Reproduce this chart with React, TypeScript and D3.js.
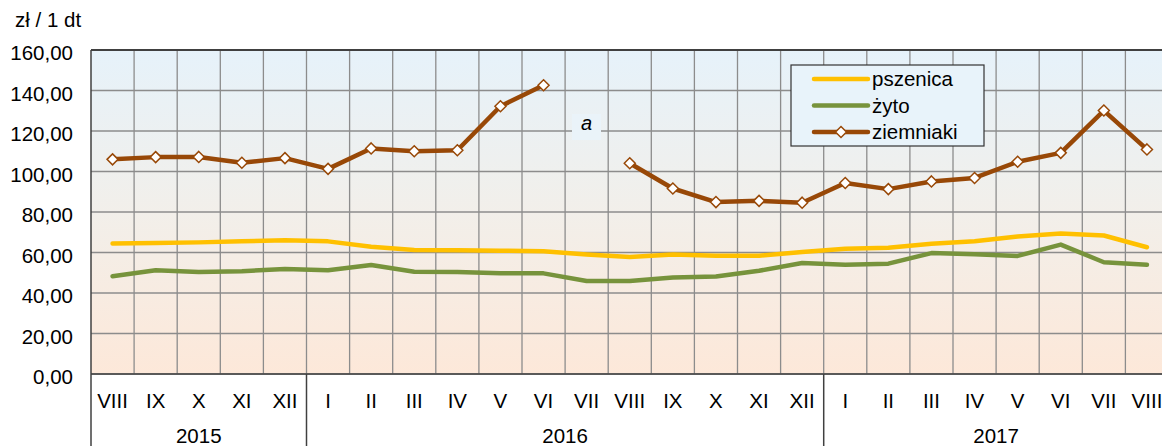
import React from "react";
import { scaleBand, scaleLinear, line } from "d3";

const months = [
  "VIII", "IX", "X", "XI", "XII",
  "I", "II", "III", "IV", "V", "VI", "VII", "VIII", "IX", "X", "XI", "XII",
  "I", "II", "III", "IV", "V", "VI", "VII", "VIII",
];
const years = [
  { label: "2015", from: 0, to: 5 },
  { label: "2016", from: 5, to: 17 },
  { label: "2017", from: 17, to: 25 },
];
const yTicks = [0, 20, 40, 60, 80, 100, 120, 140, 160];

const pszenica = [
  64.4, 64.7, 65.0, 65.5, 66.1, 65.5, 62.8, 61.2, 61.1, 60.9, 60.6, 59.0, 57.8,
  59.0, 58.4, 58.4, 60.2, 61.8, 62.3, 64.3, 65.6, 67.9, 69.4, 68.4, 62.6,
];
const zyto = [
  48.3, 51.2, 50.4, 50.8, 51.8, 51.2, 53.8, 50.5, 50.4, 49.8, 49.7, 45.9, 45.9,
  47.6, 48.1, 51.0, 54.8, 54.0, 54.5, 59.7, 59.1, 58.3, 63.9, 55.2, 53.9,
];
const ziemniaki: (number | null)[] = [
  106.0, 107.1, 107.2, 104.3, 106.6, 101.3, 111.4, 110.0, 110.5, 132.2, 142.6,
  null, 104.1, 91.6, 84.9, 85.5, 84.6, 94.3, 91.3, 95.1, 96.8, 104.8, 109.2,
  130.1, 110.9,
];

const W = 1162;
const H = 446;
const left = 91;
const step = 43.1;
const top = 50;
const bottom = 374;
const font = "'Liberation Sans', Arial, sans-serif";

const colors = { pszenica: "#FFC000", zyto: "#77933C", ziemniaki: "#984807" };

export default function App() {
  const x = scaleBand<number>()
    .domain(months.map((_, i) => i))
    .range([left, left + step * months.length])
    .padding(0);
  const y = scaleLinear().domain([0, 160]).range([bottom, top]);
  const cx = (i: number) => (x(i) as number) + x.bandwidth() / 2;

  const mk = line<number | null>()
    .defined((d) => d != null)
    .x((_, i) => cx(i))
    .y((d) => y(d as number));

  const diamond = (px: number, py: number, r = 5.5) =>
    `M${px},${py - r}L${px + r},${py}L${px},${py + r}L${px - r},${py}Z`;

  const fmt = (v: number) => v.toFixed(2).replace(".", ",");

  const legendItems = [
    { label: "pszenica", color: colors.pszenica, marker: false },
    { label: "żyto", color: colors.zyto, marker: false },
    { label: "ziemniaki", color: colors.ziemniaki, marker: true },
  ];

  return (
    <svg
      width={W}
      height={H}
      style={{ position: "absolute", left: 0, top: 0, fontFamily: font }}
    >
      <defs>
        <linearGradient id="bg" x1="0" y1="0" x2="0" y2="1">
          <stop offset="0" stopColor="#e6f2fa" />
          <stop offset="0.5" stopColor="#f2efea" />
          <stop offset="1" stopColor="#fde8d9" />
        </linearGradient>
      </defs>
      <rect width={W} height={H} fill="#fff" />
      <rect
        x={left}
        y={top}
        width={step * months.length}
        height={bottom - top}
        fill="url(#bg)"
      />

      {/* grid */}
      {yTicks.map((t) => (
        <line
          key={"h" + t}
          x1={left}
          x2={left + step * months.length}
          y1={y(t)}
          y2={y(t)}
          stroke="#8c8c8c"
          strokeWidth={1.3}
        />
      ))}
      {months.map((_, i) =>
        i === 0 ? null : (
          <line
            key={"v" + i}
            x1={x(i)}
            x2={x(i)}
            y1={top}
            y2={bottom}
            stroke="#8c8c8c"
            strokeWidth={1.3}
          />
        )
      )}
      <line x1={left} x2={W} y1={top} y2={top} stroke="#404040" strokeWidth={2} />

      {/* annotation a */}
      <rect x={572} y={114} width={29} height={26} fill="#eaf3f9" />
      <text
        x={cx(11)}
        y={y(124) + 7}
        textAnchor="middle"
        fontSize={20}
        fontStyle="italic"
        fill="#000"
      >
        a
      </text>

      {/* lines */}
      <path d={mk(pszenica) || ""} fill="none" stroke={colors.pszenica} strokeWidth={4.5} strokeLinejoin="round" strokeLinecap="round" />
      <path d={mk(zyto) || ""} fill="none" stroke={colors.zyto} strokeWidth={4.5} strokeLinejoin="round" strokeLinecap="round" />
      <path d={mk(ziemniaki) || ""} fill="none" stroke={colors.ziemniaki} strokeWidth={4.5} strokeLinejoin="round" strokeLinecap="round" />
      {ziemniaki.map((d, i) =>
        d == null ? null : (
          <path
            key={"m" + i}
            d={diamond(cx(i), y(d))}
            fill="#fff"
            stroke={colors.ziemniaki}
            strokeWidth={1.5}
          />
        )
      )}

      {/* axes */}
      <line x1={left} x2={W} y1={bottom} y2={bottom} stroke="#404040" strokeWidth={1.5} />
      <line x1={left} x2={left} y1={top} y2={H} stroke="#404040" strokeWidth={1.5} />
      {years.map((yr) => (
        <g key={yr.label}>
          {yr.from > 0 && (
            <line
              x1={x(yr.from)}
              x2={x(yr.from)}
              y1={bottom}
              y2={H}
              stroke="#404040"
              strokeWidth={1.5}
            />
          )}
          <text
            x={((x(yr.from) as number) + (x(yr.to - 1) as number) + x.bandwidth()) / 2}
            y={443}
            textAnchor="middle"
            fontSize={20.5}
            fill="#000"
          >
            {yr.label}
          </text>
        </g>
      ))}
      {months.map((m, i) => (
        <text key={"ml" + i} x={cx(i)} y={408} textAnchor="middle" fontSize={20.5} fill="#000">
          {m}
        </text>
      ))}
      {yTicks.map((t) => (
        <text key={"yl" + t} x={73} y={y(t) + 10} textAnchor="end" fontSize={20.5} fill="#000">
          {fmt(t)}
        </text>
      ))}
      <text x={15} y={27} fontSize={20.5} fill="#000">
        zł / 1 dt
      </text>

      {/* legend */}
      <rect x={791} y={65} width={193} height={81} fill="#e8f3fa" stroke="#333" strokeWidth={1.2} />
      {legendItems.map((it, i) => {
        const ly = 79 + i * 26.5;
        return (
          <g key={it.label}>
            <line x1={814} x2={868} y1={ly} y2={ly} stroke={it.color} strokeWidth={4.5} strokeLinecap="round" />
            {it.marker && (
              <path d={diamond(841, ly)} fill="#fff" stroke={it.color} strokeWidth={1.5} />
            )}
            <text x={872} y={ly + 7} fontSize={20.5} fill="#000">
              {it.label}
            </text>
          </g>
        );
      })}
    </svg>
  );
}
